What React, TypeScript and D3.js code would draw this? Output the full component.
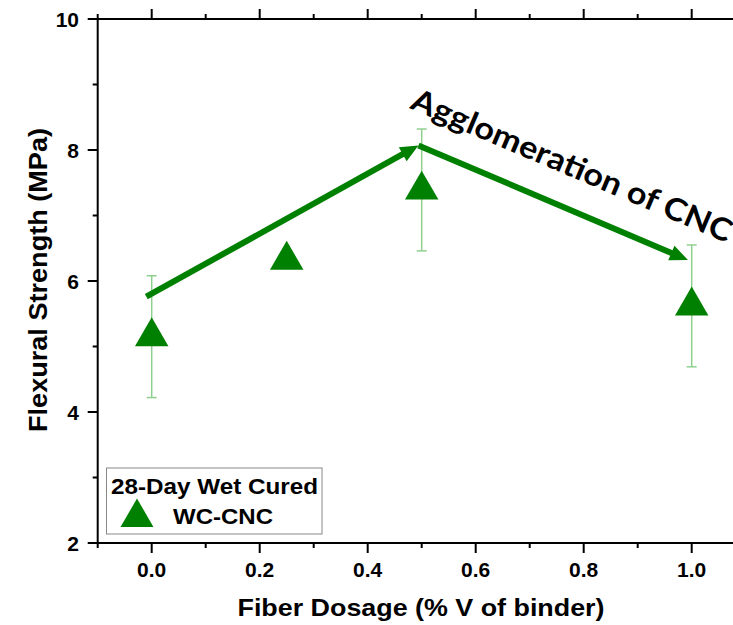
import React from "react";
import * as d3 from "d3";

const dosage = [0, 0.25, 0.5, 1.0];
const strength = [5.15, 6.32, 7.39, 5.62];
const errorSD = [0.93, 0, 0.93, 0.93];
const xTicks = [0, 0.2, 0.4, 0.6, 0.8, 1.0];
const xMinor = [-0.1, 0.1, 0.3, 0.5, 0.7, 0.9];
const yTicks = [2, 4, 6, 8, 10];
const yMinor = [3, 5, 7, 9];
// trend arrows (data coordinates)
const arrows = [
  { x1: -0.01, y1: 5.76, x2: 0.494, y2: 8.07 },
  { x1: 0.494, y1: 8.07, x2: 0.993, y2: 6.32 },
];
const legendTitle = "28-Day Wet Cured";
const seriesName = "WC-CNC";
const annotation = "Agglomeration of CNC";

const W = 733;
const H = 625;
const GREEN = "#008000";
const ERR = "#8fd08f";
const AX = "Liberation Sans, Arial, sans-serif";

export default function App() {
  const x = d3.scaleLinear().domain([-0.1, 1.1]).range([97.7, 745.7]);
  const y = d3.scaleLinear().domain([2, 10]).range([543, 19]);
  const tri = d3.symbol().type(d3.symbolTriangle).size(485)()!;
  const triLeg = d3.symbol().type(d3.symbolTriangle).size(470)()!;

  const arrowEls = arrows.map((a, i) => {
    const X1 = x(a.x1), Y1 = y(a.y1), X2 = x(a.x2), Y2 = y(a.y2);
    const ang = Math.atan2(Y2 - Y1, X2 - X1);
    const hl = 18, hw = 8;
    const bx = X2 - hl * Math.cos(ang), by = Y2 - hl * Math.sin(ang);
    const px = -Math.sin(ang), py = Math.cos(ang);
    const head = `M${X2},${Y2}L${bx + px * hw},${by + py * hw}L${bx - px * hw},${by - py * hw}Z`;
    return (
      <g key={i}>
        <line x1={X1} y1={Y1} x2={bx + 2 * Math.cos(ang)} y2={by + 2 * Math.sin(ang)} stroke={GREEN} strokeWidth={6} />
        <path d={head} fill={GREEN} />
      </g>
    );
  });

  return (
    <svg width={W} height={H} style={{ position: "absolute", left: 0, top: 0, background: "#fff" }}>
      <rect x={0} y={0} width={W} height={H} fill="#fff" />
      {/* error bars */}
      {dosage.map((d, i) =>
        errorSD[i] > 0 ? (
          <g key={"e" + i} stroke={ERR} strokeWidth={1.5}>
            <line x1={x(d)} x2={x(d)} y1={y(strength[i] + errorSD[i])} y2={y(strength[i] - errorSD[i])} />
            <line x1={x(d) - 5} x2={x(d) + 5} y1={y(strength[i] + errorSD[i])} y2={y(strength[i] + errorSD[i])} />
            <line x1={x(d) - 5} x2={x(d) + 5} y1={y(strength[i] - errorSD[i])} y2={y(strength[i] - errorSD[i])} />
          </g>
        ) : null
      )}
      {/* markers */}
      {dosage.map((d, i) => (
        <path key={"m" + i} d={tri} transform={`translate(${x(d)},${y(strength[i])})`} fill={GREEN} />
      ))}
      {arrowEls}
      {/* axes */}
      <g stroke="#000" strokeWidth={2} fill="none">
        <line x1={x(-0.1)} x2={W} y1={y(2)} y2={y(2)} />
        <line x1={x(-0.1)} x2={W} y1={y(10)} y2={y(10)} />
        <line x1={x(-0.1)} x2={x(-0.1)} y1={y(10) - 1} y2={y(2) + 1} />
        {xTicks.map((t) => (
          <g key={"xt" + t}>
            <line x1={x(t)} x2={x(t)} y1={y(2)} y2={y(2) + 10} />
            <line x1={x(t)} x2={x(t)} y1={y(10)} y2={y(10) - 10} />
          </g>
        ))}
        {xMinor.map((t) => (
          <g key={"xm" + t}>
            <line x1={x(t)} x2={x(t)} y1={y(2)} y2={y(2) + 5} />
            <line x1={x(t)} x2={x(t)} y1={y(10)} y2={y(10) - 5} />
          </g>
        ))}
        {yTicks.map((t) => (
          <line key={"yt" + t} x1={x(-0.1)} x2={x(-0.1) - 10} y1={y(t)} y2={y(t)} />
        ))}
        {yMinor.map((t) => (
          <line key={"ym" + t} x1={x(-0.1)} x2={x(-0.1) - 5} y1={y(t)} y2={y(t)} />
        ))}
      </g>
      <g fontFamily={AX} fontWeight="bold" fontSize={21} fill="#000">
        {xTicks.map((t) => (
          <text key={"xl" + t} x={x(t)} y={y(2) + 34} textAnchor="middle">
            {t.toFixed(1)}
          </text>
        ))}
        {yTicks.map((t) => (
          <text key={"yl" + t} x={79} y={y(t) + 7.5} textAnchor="end">
            {t}
          </text>
        ))}
      </g>
      <text x={421} y={616} textAnchor="middle" fontFamily={AX} fontWeight="bold" fontSize={24} textLength={367} lengthAdjust="spacingAndGlyphs">
        Fiber Dosage (% V of binder)
      </text>
      <text transform="translate(47,280) rotate(-90)" textAnchor="middle" fontFamily={AX} fontWeight="bold" fontSize={25} textLength={304} lengthAdjust="spacingAndGlyphs">
        Flexural Strength (MPa)
      </text>
      {/* legend */}
      <rect x={106.5} y={468} width={215.5} height={66} fill="#fff" stroke="#888" strokeWidth={1} />
      <text x={111} y={494} fontFamily={AX} fontWeight="bold" fontSize={22} textLength={207} lengthAdjust="spacingAndGlyphs">
        {legendTitle}
      </text>
      <path d={triLeg} transform="translate(137,517.5)" fill={GREEN} />
      <text x={173} y={524} fontFamily={AX} fontWeight="bold" fontSize={22} textLength={100} lengthAdjust="spacingAndGlyphs">
        {seriesName}
      </text>
      {/* annotation */}
      <text transform="translate(409,108) rotate(23)" fontFamily="Lato, 'Open Sans', sans-serif" fontWeight="bold" fontSize={31} textLength={345} lengthAdjust="spacingAndGlyphs">
        {annotation}
      </text>
    </svg>
  );
}
